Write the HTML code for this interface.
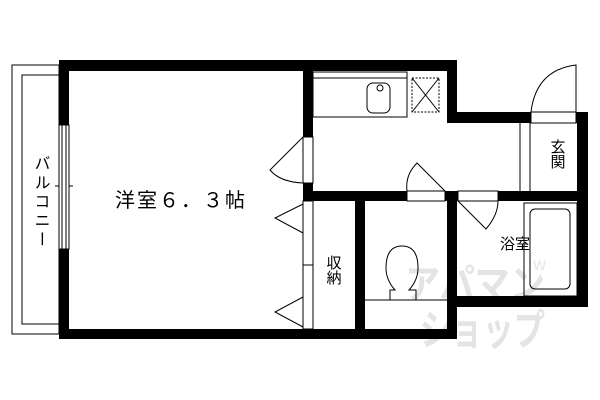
<!DOCTYPE html>
<html><head><meta charset="utf-8"><style>
html,body{margin:0;padding:0;background:#fff;width:600px;height:400px;overflow:hidden}
svg{display:block}
text{font-family:"Liberation Sans","Noto Sans CJK JP",sans-serif;fill:#000}
</style></head><body>
<svg width="600" height="400" viewBox="0 0 600 400" xmlns="http://www.w3.org/2000/svg">
<!-- watermark -->
<text x="405" y="298" font-size="40" font-weight="bold" style="fill:#e4e4e4" textLength="140" lengthAdjust="spacingAndGlyphs">アパマン</text>
<text x="420" y="345" font-size="42" font-weight="bold" style="fill:#e4e4e4" textLength="125" lengthAdjust="spacingAndGlyphs">ショップ</text>
<text x="533" y="270" font-size="14" style="fill:#e4e4e4">W</text>

<!-- balcony -->
<rect x="12" y="65" width="47" height="269" fill="none" stroke="#000" stroke-width="1"/>
<rect x="22" y="75" width="37" height="249" fill="none" stroke="#000" stroke-width="1"/>
<line x1="55" y1="186" x2="73" y2="186" stroke="#000"/>
<text x="40" y="155" font-size="16" style="writing-mode:vertical-rl;letter-spacing:3px">バルコニー</text>

<g fill="#000">
<rect x="59" y="60" width="398" height="11"/>
<rect x="59" y="60" width="10" height="279"/>
<rect x="59" y="329" width="398" height="10"/>
<rect x="303" y="60" width="10" height="141"/>
<rect x="447" y="60" width="10" height="63"/>
<rect x="447" y="112" width="141" height="11"/>
<rect x="577" y="112" width="11" height="195"/>
<rect x="303" y="191" width="274" height="10"/>
<rect x="447" y="191" width="10" height="148"/>
<rect x="457" y="296" width="131" height="11"/>
<rect x="355" y="201" width="10" height="138"/>
</g>
<g fill="#fff" stroke="#000" stroke-width="1">
<rect x="59" y="125" width="10" height="124"/>
<rect x="303" y="137" width="10" height="46"/>
<rect x="303" y="201" width="10" height="128"/>
<rect x="407" y="191" width="38" height="10"/>
<rect x="458" y="191" width="40" height="10"/>
<rect x="531" y="112" width="45" height="11"/>
</g>
<line x1="62" y1="125" x2="62" y2="249" stroke="#000"/>
<line x1="66" y1="125" x2="66" y2="249" stroke="#000"/>
<line x1="303" y1="265" x2="313" y2="265" stroke="#000"/>

<g fill="none" stroke="#000" stroke-width="1">
<path d="M303,137 L270,170 Q280,182 303,183"/>
<path d="M303,204 L275,218 L303,233"/>
<path d="M303,297 L275,312 L303,327"/>
<path d="M445,191 L417,163 Q405,175 407,191"/>
<path d="M458,201 L486,229 Q498,215 498,201"/>
<path d="M576,112 L576,65 Q536,70 531,112"/>
<rect x="313" y="72" width="94" height="45"/>
<line x1="313" y1="78" x2="407" y2="78"/>
<rect x="367" y="83" width="23" height="30" rx="6"/>
<circle cx="380" cy="88" r="3"/>
<g stroke-dasharray="2,1.5"><rect x="412" y="78" width="27" height="34"/></g>
<line x1="412" y1="78" x2="439" y2="112"/><line x1="439" y1="78" x2="412" y2="112"/>
<line x1="520" y1="123" x2="520" y2="191"/>
<line x1="530" y1="123" x2="530" y2="191"/>
<line x1="365" y1="300" x2="447" y2="300"/>
<path d="M390,300 L390,290 L395,290 Q386,280 386,268 Q386,246 402,246 Q418,246 418,268 Q418,280 409,290 L416,290 L416,300"/>
<rect x="524" y="203" width="53" height="93"/>
<rect x="530" y="209" width="40" height="80" rx="5"/>
</g>

<text x="115" y="207" font-size="20" textLength="130" lengthAdjust="spacing">洋室６．３帖</text>
<text x="333" y="255" font-size="15" style="writing-mode:vertical-rl">収納</text>
<text x="557" y="139" font-size="15" style="writing-mode:vertical-rl">玄関</text>
<text x="515" y="249" font-size="15" text-anchor="middle">浴室</text>
</svg>
</body></html>
